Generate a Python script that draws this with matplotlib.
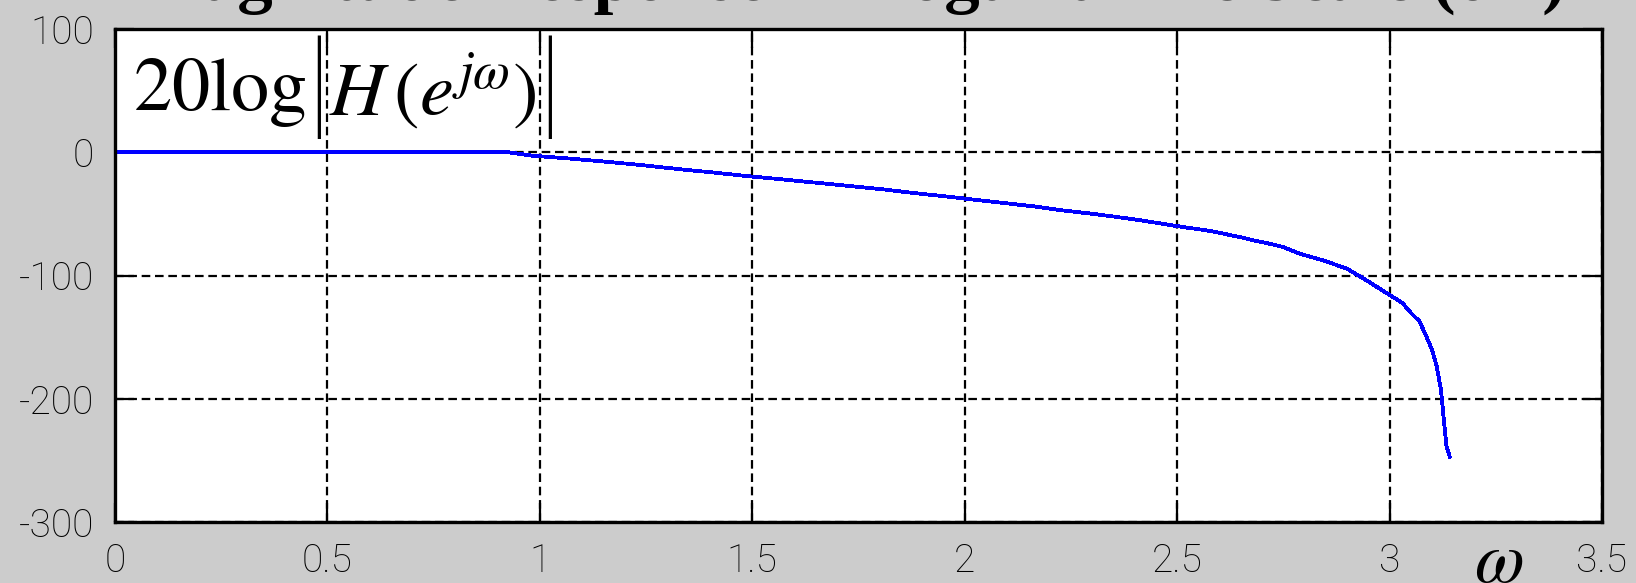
import matplotlib
matplotlib.use("Agg")
import matplotlib.pyplot as plt
import matplotlib.transforms as mtransforms

# ---- data ----
omega = [0.0, 0.5, 0.926, 0.98, 1.08, 1.17, 1.25, 1.33, 1.41, 1.49, 1.57, 1.65,
         1.73, 1.81, 1.88, 1.96, 2.03, 2.10, 2.17, 2.23, 2.30, 2.36, 2.42, 2.47,
         2.52, 2.57, 2.61, 2.65, 2.68, 2.72, 2.75, 2.79, 2.85, 2.90, 2.94, 2.99,
         3.03, 3.05, 3.07, 3.083, 3.10, 3.111, 3.121, 3.127, 3.134, 3.1416]
mag_db = [0.0, 0.0, 0.0, -2.7, -5.4, -8.1, -10.8, -13.8, -16.5, -19.4, -22.0, -24.7,
          -27.4, -30.2, -33.1, -36.0, -38.8, -41.5, -44.2, -47.2, -49.9, -52.6, -55.5, -58.3,
          -61.0, -63.4, -66.1, -69.0, -71.5, -74.4, -77.0, -82.5, -88.4, -94.6, -102.7, -113.6,
          -122.2, -130.3, -137.1, -146.6, -160.2, -173.7, -192.7, -214.4, -238.8, -247.0]

x_ticks = [0, 0.5, 1, 1.5, 2, 2.5, 3, 3.5]
x_tick_labels = ["0", "0.5", "1", "1.5", "2", "2.5", "3", "3.5"]
y_ticks = [-300, -200, -100, 0, 100]
y_tick_labels = ["-300", "-200", "-100", "0", "100"]

title_text = "Magnitude Response in Logarithmic Scale (dB)"
label_prefix = r"$\mathrm{20log}$"
label_bar = "|"
label_body = r"$H\,(e^{j\omega})$"
x_label = r"$\omega$"

# ---- style ----
plt.rcParams["mathtext.fontset"] = "stix"
plt.rcParams["axes.unicode_minus"] = False
plt.rcParams["lines.scale_dashes"] = False

W, H = 1636, 583
fig = plt.figure(figsize=(W / 100, H / 100), dpi=100, facecolor="#cccccc")
ax = fig.add_axes([115 / W, 1 - 522 / H, (1602 - 115) / W, (522 - 29) / H])
ax.set_facecolor("white")

ax.plot(omega, mag_db, color="#0000ff", lw=2.0, antialiased=False,
        solid_joinstyle="miter", zorder=3)

ax.set_xlim(0, 3.5)
ax.set_ylim(-300, 100)
ax.set_xticks(x_ticks)
ax.set_xticklabels(x_tick_labels)
ax.set_yticks(y_ticks)
ax.set_yticklabels(y_tick_labels)

ax.grid(True, color="black", linestyle=(0, (6.2, 3.4)), linewidth=1.6)
ax.tick_params(direction="in", length=14, width=1.6, top=True, right=True,
               labelsize=28, pad=15, colors="black")
for lab in ax.get_xticklabels() + ax.get_yticklabels():
    lab.set_family(["Roboto", "DejaVu Sans"])
    lab.set_fontweight("light")
for sp in ax.spines.values():
    sp.set_linewidth(2.4)
    sp.set_color("black")
    sp.set_zorder(5)

# formula label inside the axes, built from pieces so the bars can be tall and thin
t0 = ax.text(0.012, 0.836, label_prefix, transform=ax.transAxes, fontsize=55,
             ha="left", va="baseline", color="black", zorder=4)
bar_kw = dict(fontsize=88, family=["Roboto", "DejaVu Sans"], fontweight=100,
              va="center", ha="left", color="black", zorder=4,
              textcoords="offset points", annotation_clip=False)
t1 = ax.annotate(label_bar, xy=(1, 0.5), xycoords=t0, xytext=(0, 2), **bar_kw)
t2 = ax.annotate(label_body, xy=(1, 0.5), xycoords=t1, xytext=(-1, -2),
                 textcoords="offset points", fontsize=55, va="center", ha="left",
                 color="black", zorder=4, annotation_clip=False)
t3 = ax.annotate(label_bar, xy=(1, 0.5), xycoords=t2, xytext=(0, 2), **bar_kw)

# omega label at the right below the axis
trans = mtransforms.blended_transform_factory(ax.transData, ax.transAxes)
ax.text(3.256, -0.122, x_label, transform=trans, fontsize=52, ha="center",
        va="baseline", color="black", clip_on=False)

# title, mostly cut off by the top edge of the figure
fig.text(850 / W, 1.0, title_text, ha="center", va="baseline",
         fontsize=51, fontweight="bold", family=["Liberation Serif", "DejaVu Serif"],
         color="black")

fig.savefig("out.png", dpi=100, facecolor=fig.get_facecolor())
